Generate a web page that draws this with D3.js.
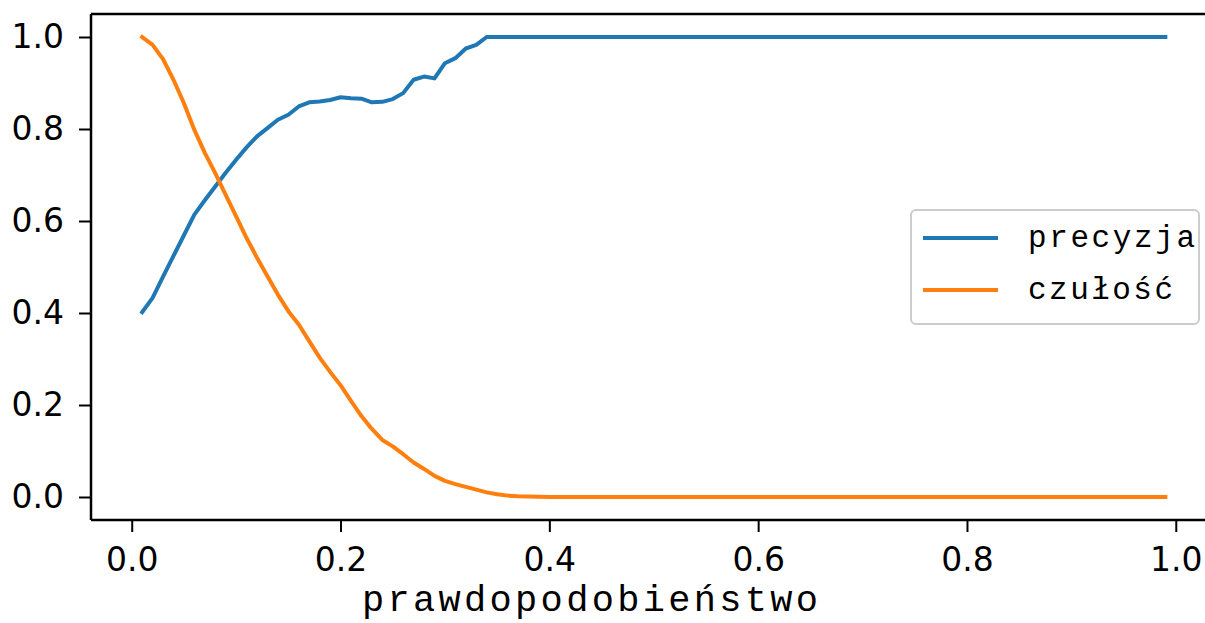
<!DOCTYPE html>
<html><head><meta charset="utf-8">
<script src="https://cdn.jsdelivr.net/npm/d3@7"></script>
<style>body{margin:0;background:#fff}svg{display:block}</style>
</head><body>
<svg id="c" width="1205" height="623"></svg>
<script>
const thresholds = [0.01,0.02,0.03,0.04,0.05,0.06,0.07,0.08,0.09,0.10,0.11,0.12,0.13,0.14,0.15,0.16,0.17,0.18,0.19,0.20,
0.21,0.22,0.23,0.24,0.25,0.26,0.27,0.28,0.29,0.30,0.31,0.32,0.33,0.34,0.35,0.36,0.37,0.38,0.39,0.40,
0.41,0.42,0.43,0.44,0.45,0.46,0.47,0.48,0.49,0.50,0.51,0.52,0.53,0.54,0.55,0.56,0.57,0.58,0.59,0.60,
0.61,0.62,0.63,0.64,0.65,0.66,0.67,0.68,0.69,0.70,0.71,0.72,0.73,0.74,0.75,0.76,0.77,0.78,0.79,0.80,
0.81,0.82,0.83,0.84,0.85,0.86,0.87,0.88,0.89,0.90,0.91,0.92,0.93,0.94,0.95,0.96,0.97,0.98,0.99];
const precyzja = [0.402,0.433,0.479,0.524,0.569,0.614,0.645,0.675,0.705,0.733,0.760,0.784,0.802,0.820,0.831,0.849,0.858,0.860,0.863,0.869,
0.867,0.866,0.858,0.859,0.865,0.878,0.907,0.914,0.910,0.943,0.954,0.975,0.983,1,1,1,1,1,1,1,
1,1,1,1,1,1,1,1,1,1,1,1,1,1,1,1,1,1,1,1,
1,1,1,1,1,1,1,1,1,1,1,1,1,1,1,1,1,1,1,1,
1,1,1,1,1,1,1,1,1,1,1,1,1,1,1,1,1,1,1];
const czulosc = [1.0,0.983,0.952,0.907,0.856,0.798,0.748,0.704,0.657,0.610,0.563,0.520,0.480,0.440,0.404,0.375,0.339,0.303,0.272,0.243,
0.209,0.176,0.148,0.124,0.110,0.093,0.075,0.061,0.046,0.035,0.028,0.022,0.016,0.010,0.006,0.003,0.0015,0.001,0.0005,0,
0,0,0,0,0,0,0,0,0,0,0,0,0,0,0,0,0,0,0,0,
0,0,0,0,0,0,0,0,0,0,0,0,0,0,0,0,0,0,0,0,
0,0,0,0,0,0,0,0,0,0,0,0,0,0,0,0,0,0,0];
const xTicks = [0.0,0.2,0.4,0.6,0.8,1.0];
const yTicks = [0.0,0.2,0.4,0.6,0.8,1.0];
const seriesNames = ["precyzja","czułość"];
const seriesColors = ["#1f77b4","#ff7f0e"];
const xLabel = "prawdopodobieństwo";

const svg = d3.select("#c");
const L = 91, T = 14, B = 520;
const x = d3.scaleLinear().domain([-0.039, 1.039]).range([L, 1216.5]);
const y = d3.scaleLinear().domain([-0.05, 1.05]).range([B, T]);

const series = [precyzja, czulosc];
const line = d3.line().x((d,i)=>x(thresholds[i])).y(d=>y(d));
series.forEach((s,k)=>{
  svg.append("path").datum(s).attr("d", line).attr("fill","none")
    .attr("stroke", seriesColors[k]).attr("stroke-width", 4).attr("stroke-linejoin","round").attr("stroke-linecap","square");
});

// axes
const xAxis = d3.axisBottom(x).tickValues(xTicks).tickFormat(d3.format(".1f")).tickSize(12).tickPadding(16);
const yAxis = d3.axisLeft(y).tickValues(yTicks).tickFormat(d3.format(".1f")).tickSize(12).tickPadding(15);
const gx = svg.append("g").attr("transform",`translate(0,${B})`).call(xAxis);
const gy = svg.append("g").attr("transform",`translate(${L},0)`).call(yAxis);
[gx,gy].forEach(g=>{
  g.attr("font-size", null).attr("font-family", null);
  g.select(".domain").remove();
  g.selectAll(".tick line").attr("stroke","#000").attr("stroke-width",2);
  g.selectAll(".tick text").attr("fill","#000")
    .style("font-family","'DejaVu Sans', sans-serif").style("font-size","33px");
});

// spines
svg.append("line").attr("x1",L).attr("x2",L).attr("y1",T).attr("y2",B).attr("stroke","#000").attr("stroke-width",2.5);
svg.append("line").attr("x1",L).attr("x2",1216).attr("y1",B).attr("y2",B).attr("stroke","#000").attr("stroke-width",2.5);
svg.append("line").attr("x1",L).attr("x2",1216).attr("y1",T).attr("y2",T).attr("stroke","#000").attr("stroke-width",2.5);

// x label
svg.append("text").attr("x",362).attr("y",611)
  .attr("textLength",456).attr("lengthAdjust","spacing")
  .style("font-family","'Courier New','Liberation Mono',monospace").style("font-size","37px").attr("fill","#000").text(xLabel);

// legend
const lg = svg.append("g");
lg.append("rect").attr("x",911).attr("y",210).attr("width",288).attr("height",114).attr("rx",5)
  .attr("fill","#fff").attr("fill-opacity",0.8).attr("stroke","#ccc").attr("stroke-width",2);
const legendLens = [167, 145];
seriesNames.forEach((n,k)=>{
  const yy = 238 + k*52;
  lg.append("line").attr("x1",923).attr("x2",998).attr("y1",yy).attr("y2",yy)
    .attr("stroke",seriesColors[k]).attr("stroke-width",4);
  lg.append("text").attr("x",1028).attr("y",yy+9)
    .attr("textLength",legendLens[k]).attr("lengthAdjust","spacing")
    .style("font-family","'Courier New','Liberation Mono',monospace").style("font-size","31px").attr("fill","#000").text(n);
});
</script>
</body></html>
